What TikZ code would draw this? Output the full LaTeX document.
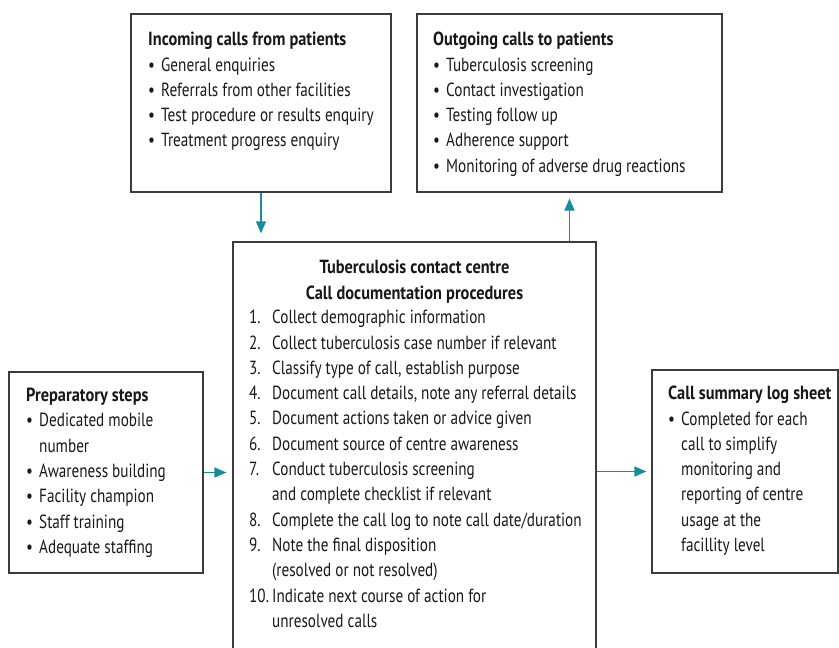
\documentclass[tikz,border=0pt]{standalone}
\usepackage{fontspec}
\setmainfont{PT Sans}[FakeStretch=0.8,BoldFeatures={FakeStretch=0.86}]
\usetikzlibrary{arrows.meta}
\definecolor{flowteal}{HTML}{1B8A9C}
\definecolor{boxgrey}{HTML}{3C3C3C}
\definecolor{inkgrey}{HTML}{1A1718}
\newcommand{\bul}{\makebox[13pt][l]{\textbullet}}
\newcommand{\cont}{\hspace*{13pt}}
\newcommand{\stepno}[1]{\makebox[23pt][l]{#1}}

\begin{document}
\begin{tikzpicture}[x=1pt,y=-1pt,
	box/.style={draw=boxgrey,line width=1.2pt,inner sep=0pt},
	txt/.style={anchor=north west,inner sep=0pt,align=left,text=inkgrey,
		font=\fontsize{19}{25.3}\selectfont},
	flow/.style={draw=flowteal,line width=1.2pt,-{Triangle[length=12pt,width=10pt]}}]
	\useasboundingbox (0,0) rectangle (839,648);
	% boxes
	\node[box,minimum width=260pt,minimum height=178pt] (incoming) at (261,103) {};
	\node[box,minimum width=305pt,minimum height=178pt] (outgoing) at (569.5,103) {};
	\node[box,minimum width=363pt,minimum height=418pt] (centre) at (414.5,451) {};
	\node[box,minimum width=194pt,minimum height=201pt] (prep) at (106,472.5) {};
	\node[box,minimum width=186pt,minimum height=203pt] (summary) at (745,471.5) {};
	% texts
	\node[txt] (incomingtxt) at (148,32) {\textbf{Incoming calls from patients}\\
		\bul General enquiries\\
		\bul Referrals from other facilities\\
		\bul Test procedure or results enquiry\\
		\bul Treatment progress enquiry};
	\node[txt] (outgoingtxt) at (433,32) {\textbf{Outgoing calls to patients}\\
		\bul Tuberculosis screening\\
		\bul Contact investigation\\
		\bul Testing follow up\\
		\bul Adherence support\\
		\bul Monitoring of adverse drug reactions};
	\node[txt,anchor=north,align=center] (centretitle) at (414.5,260) {\textbf{Tuberculosis contact centre}\\
		\textbf{Call documentation procedures}};
	\node[txt] (centretxt) at (249,310) {\stepno{1.}Collect demographic information\\
		\stepno{2.}Collect tuberculosis case number if relevant\\
		\stepno{3.}Classify type of call, establish purpose\\
		\stepno{4.}Document call details, note any referral details\\
		\stepno{5.}Document actions taken or advice given\\
		\stepno{6.}Document source of centre awareness\\
		\stepno{7.}Conduct tuberculosis screening\\
		\stepno{}and complete checklist if relevant\\
		\stepno{8.}Complete the call log to note call date/duration\\
		\stepno{9.}Note the final disposition\\
		\stepno{}(resolved or not resolved)\\
		\stepno{10.}Indicate next course of action for\\
		\stepno{}unresolved calls};
	\node[txt] (preptxt) at (26,388) {\textbf{Preparatory steps}\\
		\bul Dedicated mobile\\
		\cont number\\
		\bul Awareness building\\
		\bul Facility champion\\
		\bul Staff training\\
		\bul Adequate staffing};
	\node[txt] (summarytxt) at (668,386) {\textbf{Call summary log sheet}\\
		\bul Completed for each\\
		\cont call to simplify\\
		\cont monitoring and\\
		\cont reporting of centre\\
		\cont usage at the\\
		\cont facillity level};
	% arrows
	\draw[flow,shorten >=8pt] (incoming.south) -- (incoming.south |- centre.north);
	\draw[flow,shorten >=6pt] (outgoing.south |- centre.north) -- (outgoing.south);
	\draw[flow,shorten >=6pt] (prep.east) -- (prep.east -| centre.west);
	\draw[flow,shorten >=5pt] (centre.east |- summary.west) -- (summary.west);
\end{tikzpicture}
\end{document}
